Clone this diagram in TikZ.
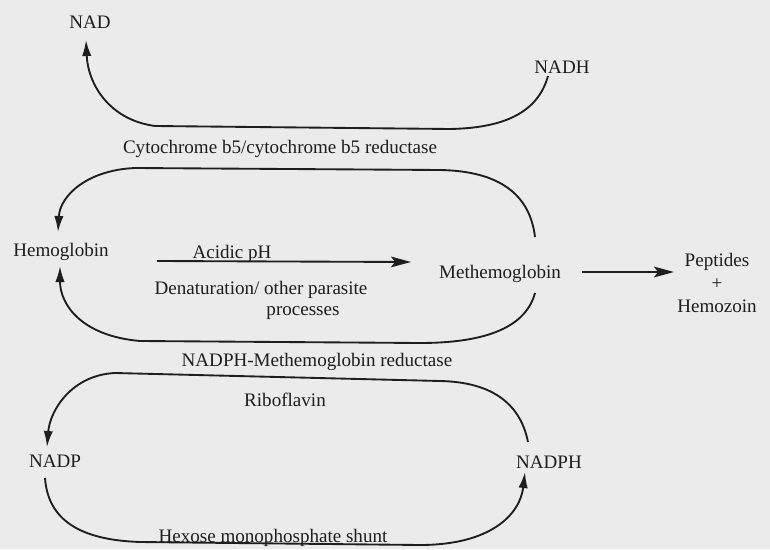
\documentclass[tikz,border=0pt]{standalone}
\usepackage{fontspec}
\setmainfont{Liberation Serif}
\usetikzlibrary{arrows.meta,calc}
\definecolor{bg}{HTML}{EBEBEB}
\definecolor{ink}{HTML}{1E1E1E}
\begin{document}
\begin{tikzpicture}[x=0.75pt,y=-0.75pt,
  lbl/.style={font=\fontsize{14.3}{17}\selectfont, text=ink, inner sep=0pt},
  curve/.style={draw=ink, line width=1.4pt},
  ctip/.style={-{Latex[length=12pt,width=7pt]}},
  stip/.style={-{Stealth[length=15pt,width=8pt,inset=3pt]}}]
\fill[bg] (0,0) rectangle (770,549);
\useasboundingbox (0,0) rectangle (770,549);
% nodes
\node[lbl] (nad) at (90,22) {NAD};
\node[lbl] (nadh) at (562,67) {NADH};
\node[lbl] (hb) at (61,252) {Hemoglobin};
\node[lbl] (methb) at (500,274) {Methemoglobin};
\node[lbl, align=center] (prod) at (717,283) {Peptides\\+\\Hemozoin};
\node[lbl] (nadp) at (55,461) {NADP};
\node[lbl] (nadph) at (549,462) {NADPH};
% labels
\node[lbl] (cyt) at (280,149) {Cytochrome b5/cytochrome b5 reductase};
\node[lbl] (acid) at (232,254) {Acidic pH};
\node[lbl] (den) at (261,290) {Denaturation/ other parasite};
\node[lbl] (proc) at (303,313) {processes};
\node[lbl] (npr) at (317,362) {NADPH-Methemoglobin reductase};
\node[lbl] (ribo) at (285,400) {Riboflavin};
\node[lbl] (hmp) at (273,538) {Hexose monophosphate shunt};
% curves
\draw[curve, ctip] ($(nadh)+(-14,9)$) .. controls (538,112) and (505,128) .. (450,129)
  -- (155,126) .. controls (110,120) and (88,85) .. ($(nad)+(-4,18)$);
\draw[curve, ctip] ($(methb)+(35,-37)$) .. controls (530,195) and (500,171) .. (440,170)
  -- (135,168) .. controls (88,170) and (60,195) .. ($(hb)+(-3,-20)$);
\draw[curve, ctip] ($(methb)+(35,19)$) .. controls (525,330) and (480,343) .. (420,343)
  -- (140,341) .. controls (82,336) and (60,305) .. ($(hb)+(-1,14)$);
\draw[curve, ctip] ($(nadph)+(-21,-20)$) .. controls (520,402) and (490,382) .. (440,381)
  -- (115,373) .. controls (72,375) and (50,410) .. ($(nadp)+(-8,-14)$);
\draw[curve, ctip] ($(nadp)+(-10,17)$) .. controls (48,520) and (80,540) .. (140,542)
  -- (420,545) .. controls (490,545) and (520,515) .. ($(nadph)+(-24,10)$);
% straight arrows
\draw[curve, stip] ($(hb)+(96,9)$) -- ($(methb)+(-89,-12)$);
\draw[curve, stip] ($(methb)+(82,-2)$) -- ($(prod)+(-43,-11)$);
\end{tikzpicture}
\end{document}
